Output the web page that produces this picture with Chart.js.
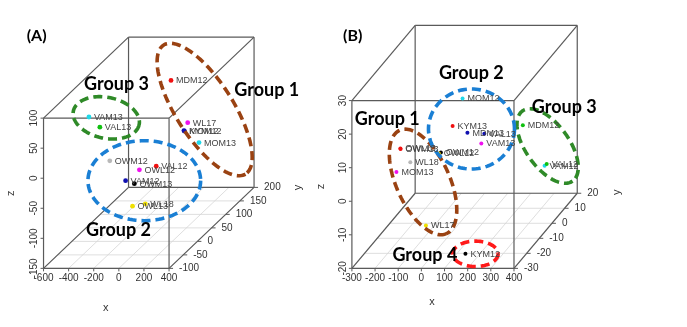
<!DOCTYPE html>
<html>
<head>
<meta charset="utf-8">
<script src="https://cdn.jsdelivr.net/npm/chart.js@4.4.1/dist/chart.umd.min.js"></script>
<style>
  body { margin: 0; background: #fff; }
  canvas { position: absolute; left: 0; top: 0; }
</style>
</head>
<body>
<canvas id="panelA" width="687" height="327"></canvas>
<canvas id="panelB" width="687" height="327"></canvas>
<script>
// ---- datos panel A ----
const muestrasA = ["MDM12", "WL17", "KYM12", "MOM12", "MOM13", "VAM13", "VAL13", "OWM12", "VAL12", "OWL12", "VAM12", "OWM13", "OWL13", "WL18"];
const xA = [-36, 210, 180, 184, 300, -464, -377, -298, 72, -62, -172, -102, -4, 98];
const yA = [100, 50, 50, 50, 50, 0, 0, 0, 0, 0, 0, 0, -50, -50];
const zA = [73, 25, 12, 11, -8, 57, 40, -16, -25, -31, -49, -54, -69, -65];
const clusterA = ["red", "magenta", "blue", "blue", "cyan", "cyan", "green", "gray", "red", "magenta", "blue", "black", "yellow", "yellow"];
const ticksXA = [-600, -400, -200, 0, 200, 400];
const ticksYA = [-100, -50, 0, 50, 100, 150, 200];
const ticksZA = [-150, -100, -50, 0, 50, 100];

// ---- datos panel B ----
const muestrasB = ["MOM12", "KYM13", "MDM13", "VAL13", "VAM13", "OWM13", "OWL13", "WL18", "MOM13", "OWM12", "OWL12", "WL17", "KYM12", "MDM12", "VAM12", "VAL12"];
const xB = [14, -29, 35, 108, 95, -199, -200, -157, -217, -25, -34, -35, 163, 247, 341, 350];
const yB = [0, 0, 0, 0, 0, -10, -10, -10, -10, -10, -10, -20, -25, 5, 5, 5];
const zB = [17.2, 9, 7, 6.7, 3.8, 6.6, 6.8, 2.7, -0.2, 5.6, 5.3, -11.7, -17.9, 7, -5.1, -4.6];
const clusterB = ["cyan", "red", "blue", "blue", "magenta", "red", "red", "gray", "magenta", "black", "yellow", "yellow", "black", "green", "cyan", "green"];
const ticksXB = [-300, -200, -100, 0, 100, 200, 300, 400];
const ticksYB = [-30, -20, -10, 0, 10, 20];
const ticksZB = [-20, -10, 0, 10, 20, 30];

const paleta = {
  black: "#000000", red: "#f01010", green: "#10c010", blue: "#1010b0",
  cyan: "#20d8e8", magenta: "#f010f0", yellow: "#f0e000", gray: "#b8b8b8"
};

const FUENTE_EJE = '"Liberation Sans Narrow", "Liberation Sans", Arial, sans-serif';

// caja y proyeccion de cada panel (posiciones en la pagina)
const panelA = {
  canvas: "panelA", etiqueta: "(A)", posEtiqueta: [23, 33],
  muestras: muestrasA, x: xA, y: yA, z: zA, cluster: clusterA,
  ticksX: ticksXA, ticksY: ticksYA, ticksZ: ticksZA,
  rangoX: [-600, 400], rangoY: [-100, 200], rangoZ: [-150, 100],
  origen: [40, 271], ancho: 127, alto: 154, fondo: [86, -83],
  radio: 2.4,
  tituloX: [103, 312], tituloZ: [7, 194], tituloY: [297, 188],
  grupos: [
    { nombre: "Group 1", color: "#9a4212", centro: [345, 50, 47], a: 78, b: 29, angulo: 58, texto: [233, 88] },
    { nombre: "Group 3", color: "#2f8a28", centro: [-326, 0, 55.6], a: 34, b: 21, angulo: 12, texto: [81, 82] },
    { nombre: "Group 2", color: "#1a7fd4", centro: [-23, 0, -49], a: 57, b: 41, angulo: 0, texto: [83, 232] }
  ]
};

const panelB = {
  canvas: "panelB", etiqueta: "(B)", posEtiqueta: [343, 33],
  muestras: muestrasB, x: xB, y: yB, z: zB, cluster: clusterB,
  ticksX: ticksXB, ticksY: ticksYB, ticksZ: ticksZB,
  rangoX: [-300, 400], rangoY: [-30, 20], rangoZ: [-20, 30],
  origen: [352, 271], ancho: 164, alto: 172, fondo: [64, -77],
  radio: 2,
  tituloX: [433, 305], tituloZ: [321, 187], tituloY: [620, 193],
  grupos: [
    { nombre: "Group 2", color: "#1a7fd4", centro: [52.5, 0, 8.1], a: 43.5, b: 41, angulo: 0, texto: [440, 71] },
    { nombre: "Group 1", color: "#9a4212", centro: [-102, -10, -3.2], a: 58, b: 27, angulo: 66, texto: [355, 118] },
    { nombre: "Group 3", color: "#2f8a28", centro: [354, 5, 0.8], a: 44, b: 22, angulo: 55, texto: [534, 106] },
    { nombre: "Group 4", color: "#ff1a1a", centro: [206, -25, -17.9], a: 23, b: 13, angulo: 0, texto: [393, 257] }
  ]
};

function proyectar(p, x, y, z) {
  const fx = (x - p.rangoX[0]) / (p.rangoX[1] - p.rangoX[0]);
  const fy = (y - p.rangoY[0]) / (p.rangoY[1] - p.rangoY[0]);
  const fz = (z - p.rangoZ[0]) / (p.rangoZ[1] - p.rangoZ[0]);
  return {
    x: p.origen[0] + fx * p.ancho + fy * p.fondo[0],
    y: p.origen[1] - fz * p.alto + fy * p.fondo[1]
  };
}

function segmento(a, b, color, ancho, orden) {
  return {
    data: [a, b], showLine: true, borderColor: color, borderWidth: ancho,
    pointRadius: 0, order: orden, clip: false
  };
}

function datasetsCaja(p) {
  const [x0, x1] = p.rangoX, [y0, y1] = p.rangoY, [z0, z1] = p.rangoZ;
  const P = (x, y, z) => proyectar(p, x, y, z);
  const sets = [];

  // rejilla del suelo
  p.ticksX.forEach(t => sets.push(segmento(P(t, y0, z0), P(t, y1, z0), "#d6d6d6", 0.8, 5)));
  p.ticksY.forEach(t => sets.push(segmento(P(x0, t, z0), P(x1, t, z0), "#d6d6d6", 0.8, 5)));

  const aristas = [
    [[x0, y0, z0], [x1, y0, z0]], [[x0, y0, z1], [x1, y0, z1]],
    [[x0, y0, z0], [x0, y0, z1]], [[x1, y0, z0], [x1, y0, z1]],
    [[x0, y1, z0], [x1, y1, z0]], [[x0, y1, z1], [x1, y1, z1]],
    [[x0, y1, z0], [x0, y1, z1]], [[x1, y1, z0], [x1, y1, z1]],
    [[x0, y0, z0], [x0, y1, z0]], [[x1, y0, z0], [x1, y1, z0]],
    [[x0, y0, z1], [x0, y1, z1]], [[x1, y0, z1], [x1, y1, z1]]
  ];
  aristas.forEach(([a, b]) => sets.push(segmento(P(...a), P(...b), "#5a5a5a", 1.2, 4)));
  return sets;
}

function datasetElipse(p, g) {
  const c = proyectar(p, g.centro[0], g.centro[1], g.centro[2]);
  const ang = g.angulo * Math.PI / 180;
  const pts = [];
  for (let i = 0; i <= 120; i++) {
    const t = i / 120 * 2 * Math.PI;
    const ex = g.a * Math.cos(t);
    const ey = g.b * Math.sin(t);
    pts.push({
      x: c.x + ex * Math.cos(ang) - ey * Math.sin(ang),
      y: c.y + ex * Math.sin(ang) + ey * Math.cos(ang)
    });
  }
  return {
    data: pts, showLine: true, borderColor: g.color, borderWidth: 3.6,
    borderDash: [9, 5], pointRadius: 0, order: 1, clip: false
  };
}

function pluginTextos(p) {
  return {
    id: "textos",
    afterDatasetsDraw(chart) {
      const ctx = chart.ctx;
      const sx = chart.scales.x, sy = chart.scales.y;
      const px = v => sx.getPixelForValue(v);
      const py = v => sy.getPixelForValue(v);
      const [x0, x1] = p.rangoX, [y0, y1] = p.rangoY, [z0] = p.rangoZ;

      ctx.save();
      ctx.strokeStyle = "#5a5a5a";
      ctx.lineWidth = 1;
      ctx.fillStyle = "#333";
      ctx.font = "10px " + FUENTE_EJE;

      // eje x
      ctx.textAlign = "center";
      ctx.textBaseline = "middle";
      p.ticksX.forEach(t => {
        const q = proyectar(p, t, y0, z0);
        ctx.beginPath();
        ctx.moveTo(px(q.x), py(q.y));
        ctx.lineTo(px(q.x), py(q.y) + 3);
        ctx.stroke();
        ctx.fillText(String(t), px(q.x), py(q.y) + 10);
      });

      // eje y (diagonal derecha)
      ctx.textAlign = "left";
      p.ticksY.forEach(t => {
        const q = proyectar(p, x1, t, z0);
        ctx.beginPath();
        ctx.moveTo(px(q.x), py(q.y));
        ctx.lineTo(px(q.x) + 4, py(q.y));
        ctx.stroke();
        ctx.fillText(String(t), px(q.x) + 10, py(q.y));
      });

      // eje z (rotado)
      ctx.textAlign = "center";
      p.ticksZ.forEach(t => {
        const q = proyectar(p, x0, y0, t);
        ctx.beginPath();
        ctx.moveTo(px(q.x) - 3, py(q.y));
        ctx.lineTo(px(q.x), py(q.y));
        ctx.stroke();
        ctx.save();
        ctx.translate(px(q.x) - 9, py(q.y));
        ctx.rotate(-Math.PI / 2);
        ctx.fillText(String(t), 0, 0);
        ctx.restore();
      });

      // titulos de ejes
      ctx.font = "11px " + FUENTE_EJE;
      ctx.fillText("x", px(p.tituloX[0]), py(p.tituloX[1]));
      [["z", p.tituloZ], ["y", p.tituloY]].forEach(([txt, pos]) => {
        ctx.save();
        ctx.translate(px(pos[0]), py(pos[1]));
        ctx.rotate(-Math.PI / 2);
        ctx.fillText(txt, 0, 0);
        ctx.restore();
      });

      // etiquetas de muestras
      ctx.font = "9px " + FUENTE_EJE;
      ctx.fillStyle = "#444";
      ctx.textAlign = "left";
      p.muestras.forEach((m, i) => {
        const q = proyectar(p, p.x[i], p.y[i], p.z[i]);
        ctx.fillText(m, px(q.x) + 5, py(q.y) + 0.5);
      });

      // grupos y letra del panel
      ctx.fillStyle = "#000";
      ctx.font = "bold 18px Lato, 'Open Sans', sans-serif";
      p.grupos.forEach(g => ctx.fillText(g.nombre, px(g.texto[0]), py(g.texto[1])));
      ctx.font = "bold 16px Lato, 'Open Sans', sans-serif";
      ctx.fillText(p.etiqueta, px(p.posEtiqueta[0]), py(p.posEtiqueta[1]));

      ctx.restore();
    }
  };
}

function crearPanel(p) {
  const canvas = document.getElementById(p.canvas);
  if (!canvas) return;

  const puntos = p.muestras.map((m, i) => proyectar(p, p.x[i], p.y[i], p.z[i]));

  const datasets = [
    ...datasetsCaja(p),
    ...p.grupos.map(g => datasetElipse(p, g)),
    {
      data: puntos,
      pointRadius: p.radio,
      pointBackgroundColor: p.cluster.map(c => paleta[c]),
      pointBorderWidth: 0,
      order: 2,
      clip: false
    }
  ];

  new Chart(canvas, {
    type: "scatter",
    data: { datasets },
    options: {
      responsive: false,
      animation: false,
      devicePixelRatio: 1,
      events: [],
      layout: { padding: 0 },
      plugins: { legend: { display: false }, tooltip: { enabled: false } },
      scales: {
        x: { type: "linear", min: 0, max: 687, display: false },
        y: { type: "linear", min: 0, max: 327, reverse: true, display: false }
      }
    },
    plugins: [pluginTextos(p)]
  });
}

crearPanel(panelA);
crearPanel(panelB);
</script>
</body>
</html>
